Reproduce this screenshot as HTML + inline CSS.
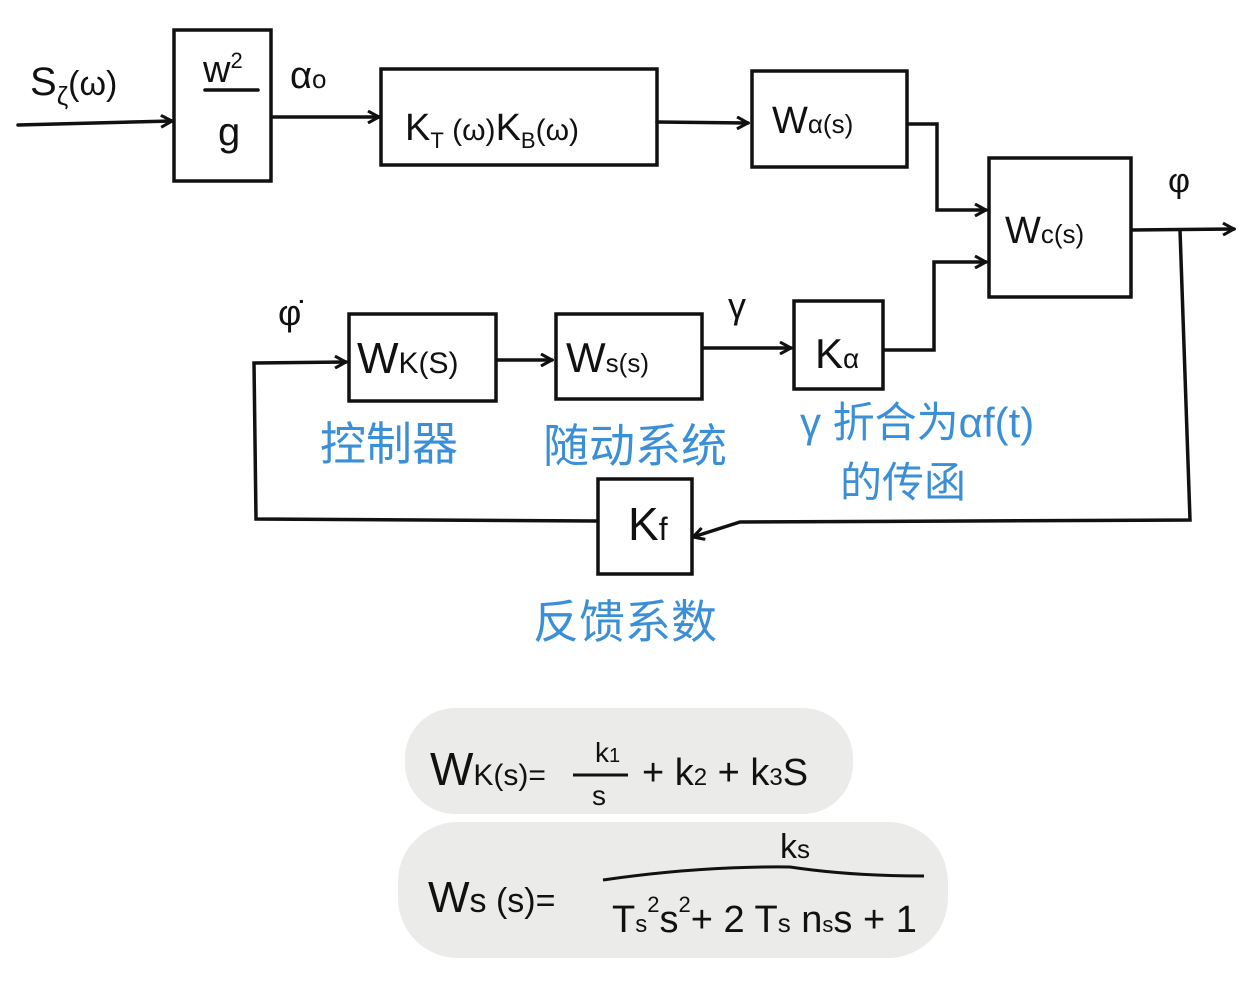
<!DOCTYPE html>
<html><head><meta charset="utf-8"><style>
html,body{margin:0;padding:0;background:#fff;}
svg{display:block;}
text{font-family:"Liberation Sans","Noto Sans CJK SC",sans-serif;fill:#111;}
.b{fill:#3b8fd6;font-family:"Liberation Sans","Noto Sans CJK SC",sans-serif;}
</style></head><body>
<svg width="1254" height="994" viewBox="0 0 1254 994" xmlns="http://www.w3.org/2000/svg">
<defs><marker id="a" markerWidth="14" markerHeight="14" refX="12" refY="7" orient="auto" markerUnits="userSpaceOnUse"><path d="M1,1 L12,7 L1,13" fill="none" stroke="#111" stroke-width="3"/></marker></defs>
<g fill="none" stroke="#111" stroke-width="3.5" stroke-linecap="round">
<rect x="174" y="30" width="97" height="151"/>
<rect x="381" y="69" width="276" height="96"/>
<rect x="752" y="71" width="155" height="96"/>
<rect x="989" y="158" width="142" height="139"/>
<rect x="349" y="314" width="147" height="87"/>
<rect x="556" y="314" width="146" height="85"/>
<rect x="794" y="301" width="89" height="88"/>
<rect x="598" y="479" width="94" height="95"/>
<path d="M18,125 L172,121" marker-end="url(#a)"/>
<path d="M272,117 L379,117" marker-end="url(#a)"/>
<path d="M657,122 L748,123" marker-end="url(#a)"/>
<path d="M908,124 L937,124 L937,210 L986,210" marker-end="url(#a)"/>
<path d="M884,350 L934,350 L934,262 L986,262" marker-end="url(#a)"/>
<path d="M1132,230 L1234,229" marker-end="url(#a)"/>
<path d="M1180,230 L1190,520 L740,522 L693,537" marker-end="url(#a)"/>
<path d="M596,521 L256,519 L254,363 L346,362" marker-end="url(#a)"/>
<path d="M497,360 L552,360" marker-end="url(#a)"/>
<path d="M703,348 L791,348" marker-end="url(#a)"/>
<path d="M205,90 L258,90"/>
</g>
<text x="30" y="95" font-size="40">S<tspan font-size="26" dy="10">ζ</tspan><tspan dy="-10" font-size="34">(ω)</tspan></text>
<text x="203" y="82" font-size="38">w<tspan font-size="22" dy="-14">2</tspan></text>
<text x="218" y="145" font-size="40">g</text>
<text x="290" y="88" font-size="38">α<tspan font-size="26">o</tspan></text>
<text x="405" y="140" font-size="38">K<tspan font-size="22" dy="8">T</tspan><tspan dy="-8" font-size="30"> (ω)</tspan>K<tspan font-size="22" dy="8">B</tspan><tspan dy="-8" font-size="30">(ω)</tspan></text>
<text x="772" y="133" font-size="38">W<tspan font-size="26">α(s)</tspan></text>
<text x="1005" y="243" font-size="38">W<tspan font-size="26">c(s)</tspan></text>
<text x="1168" y="192" font-size="34">φ</text>
<text x="278" y="325" font-size="36">φ̇</text>
<text x="357" y="373" font-size="44">W<tspan font-size="30">K(S)</tspan></text>
<text x="566" y="372" font-size="42">W<tspan font-size="26">s(s)</tspan></text>
<text x="728" y="318" font-size="36">γ</text>
<text x="815" y="368" font-size="42">K<tspan font-size="28">α</tspan></text>
<text x="628" y="540" font-size="46">K<tspan font-size="32">f</tspan></text>
<text class="b" x="320" y="460" font-size="46">控制器</text>
<text class="b" x="543" y="462" font-size="46">随动系统</text>
<text class="b" x="800" y="437" font-size="42">γ 折合为αf(t)</text>
<text class="b" x="840" y="497" font-size="42">的传函</text>
<text class="b" x="533" y="638" font-size="46">反馈系数</text>
<rect x="405" y="708" width="448" height="106" rx="50" fill="#ebebea"/>
<rect x="398" y="822" width="550" height="136" rx="60" fill="#ebebea"/>
<text x="430" y="785" font-size="46">W<tspan font-size="30">K(s)=</tspan></text>
<text x="595" y="762" font-size="28">k<tspan font-size="20">1</tspan></text>
<path d="M573,775 L628,775" stroke="#111" stroke-width="3"/>
<text x="592" y="805" font-size="28">s</text>
<text x="642" y="785" font-size="38">+ k<tspan font-size="24">2</tspan> + k<tspan font-size="24">3</tspan>S</text>
<text x="428" y="912" font-size="44">W<tspan font-size="34">s (s)=</tspan></text>
<text x="780" y="858" font-size="34">k<tspan font-size="26">s</tspan></text>
<path d="M603,880 Q700,866 790,867 Q850,876 924,876" fill="none" stroke="#111" stroke-width="3"/>
<text x="612" y="932" font-size="38">T<tspan font-size="24">s</tspan><tspan font-size="22" dy="-20">2</tspan><tspan dy="20">s</tspan><tspan font-size="22" dy="-20">2</tspan><tspan dy="20">+ 2 T</tspan><tspan font-size="26">s</tspan> n<tspan font-size="22">s</tspan>s + 1</text>
</svg>
</body></html>
